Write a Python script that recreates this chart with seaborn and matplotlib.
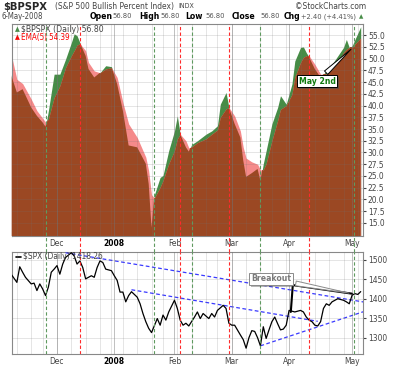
import numpy as np
import pandas as pd
import seaborn as sns
import matplotlib.pyplot as plt
import matplotlib.patheffects as pe

sns.set_style("white")
plt.rcParams["font.family"] = ["DejaVu Sans"]
plt.rcParams["font.stretch"] = "condensed"

# trading days are numbered from 2007-11-01 (day 0)
holidays = ["2007-11-22", "2007-12-25", "2008-01-01", "2008-01-21", "2008-02-18", "2008-03-21"]
days = pd.bdate_range("2007-11-01", "2008-05-06")
days = days[~days.isin(pd.to_datetime(holidays))]

# $BPSPX and its 5-day EMA
bp_day = [5, 7, 9, 12, 14, 16, 17, 18, 20, 22, 24, 26, 27, 28, 29, 31, 32, 34, 36, 38,
          40, 42, 44, 46, 49, 52, 53, 54, 55, 57, 58, 60, 62, 63, 64, 66, 67, 68, 70, 73,
          75, 77, 78, 80, 81, 83, 85, 86, 87, 89, 91, 92, 93, 94, 96, 98, 99, 101, 103, 104,
          106, 107, 108, 109, 111, 113, 115, 117, 119, 121, 122, 123, 124, 125, 127]
bp_val = [46.5, 42.8, 43.5, 39.6, 37.8, 36.4, 35.5, 38.9, 46.7, 46.7, 49.9, 53.4, 55.3, 54.9, 53.4, 50.6, 47.8, 46.0, 47.0, 48.5,
          48.3, 44.6, 38.9, 31.5, 31.1, 27.6, 23.3, 14.0, 21.0, 24.7, 25.1, 30.4, 34.6, 37.8, 33.9, 31.1, 30.2, 31.7, 32.5, 33.9,
          34.6, 35.7, 40.3, 42.8, 39.6, 36.1, 33.2, 28.3, 24.8, 25.6, 26.5, 24.0, 27.6, 30.4, 36.1, 39.6, 42.1, 40.3, 44.6, 49.5,
          52.4, 52.5, 51.3, 50.3, 47.8, 46.0, 47.4, 48.8, 50.6, 52.4, 54.1, 52.4, 52.7, 54.1, 56.8]
ema_val = [51.0, 45.6, 44.7, 41.4, 38.9, 37.3, 36.5, 37.1, 41.7, 44.2, 48.1, 50.6, 51.7, 52.9, 53.2, 51.7, 49.2, 47.4, 47.0, 47.8,
           48.1, 46.0, 40.7, 36.1, 33.2, 29.0, 26.1, 21.0, 20.3, 22.6, 24.0, 27.6, 30.4, 32.9, 33.9, 32.5, 31.0, 31.2, 32.1, 32.9,
           33.9, 34.8, 37.5, 39.3, 39.6, 37.8, 34.6, 31.1, 28.8, 28.0, 27.5, 26.3, 26.3, 27.6, 32.5, 36.8, 39.2, 40.0, 42.4, 46.0,
           49.2, 50.3, 50.6, 50.6, 48.8, 46.7, 46.7, 47.8, 49.2, 51.3, 52.0, 52.4, 52.4, 53.1, 54.39]

# $SPX close
spx_day = [5, 7, 8, 9, 10, 12, 13, 14, 15, 16, 17, 18, 19, 20, 21, 22, 23, 24, 26, 27,
           28, 29, 30, 31, 33, 34, 35, 36, 37, 38, 40, 41, 42, 43, 44, 45, 46, 47, 49, 50,
           51, 52, 53, 54, 56, 57, 58, 59, 60, 62, 63, 64, 65, 66, 67, 69, 70, 71, 72, 74,
           75, 76, 77, 79, 80, 81, 82, 83, 85, 86, 87, 88, 89, 90, 91, 92, 93, 94, 95, 96,
           97, 98, 99, 100, 101, 102, 104, 106, 107, 108, 109, 110, 111, 112, 113, 114, 115, 116, 117, 118,
           119, 121, 122, 123, 124, 125, 126, 127]
spx_val = [1463, 1442, 1482, 1468, 1455, 1438, 1440, 1421, 1438, 1425, 1408, 1430, 1468, 1476, 1485, 1463, 1489, 1506, 1518, 1510,
           1489, 1497, 1480, 1451, 1459, 1455, 1480, 1497, 1493, 1476, 1472, 1459, 1447, 1417, 1417, 1392, 1408, 1418, 1404, 1387,
           1362, 1341, 1324, 1313, 1349, 1332, 1358, 1345, 1366, 1396, 1375, 1345, 1332, 1337, 1330, 1353, 1366, 1349, 1362, 1349,
           1362, 1353, 1370, 1383, 1375, 1337, 1332, 1332, 1307, 1295, 1273, 1300, 1318, 1316, 1300, 1279, 1328, 1298, 1320, 1341,
           1353, 1336, 1320, 1322, 1332, 1370, 1366, 1370, 1366, 1353, 1345, 1341, 1332, 1330, 1341, 1375, 1387, 1383, 1392, 1396,
           1400, 1396, 1392, 1387, 1409, 1413, 1411, 1418.26]

# trend lines drawn on the $SPX panel (day, value)
trend_upper = [(24, 1518), (128.5, 1391)]
trend_middle = [(47, 1423), (112, 1342)]
trend_lower = [(92, 1279), (128.5, 1368)]
breakout_line = [(102.6, 1366), (103.3, 1435), (123.9, 1413)]

# crossover signal days
buy_days = [17, 55, 68, 92, 124.5]
sell_days = [29, 64, 81, 109]

brown, green, pink = "#9b4823", "#468c46", "#f58a8a"
grid_c = (0.45, 0.45, 0.45, 0.22)
txt_c = "#444444"

month_idx = [i for i in range(1, len(days)) if days[i].month != days[i - 1].month]
month_lab = ["Dec", "2008", "Feb", "Mar", "Apr", "May"]
week_idx = [i for i in range(1, len(days)) if days[i].weekday() < days[i - 1].weekday()]

fig = plt.figure(figsize=(4, 3.67), dpi=100, facecolor="w")
ax1 = fig.add_axes([0.03, 0.357, 0.8775, 0.5777])
ax2 = fig.add_axes([0.03, 0.0354, 0.8775, 0.278])

ybot = 12.2
x = np.array(bp_day)
bp = np.array(bp_val)
ema = np.array(ema_val)
g = ax1.fill_between(x, ybot, bp, color=green, lw=0, zorder=1)
ax1.fill_between(x, ybot, ema, color=pink, lw=0, zorder=2)
b = ax1.fill_between(x, ybot, ema, color=brown, lw=0, zorder=3)
b.set_clip_path(g.get_paths()[0], ax1.transData)
ax1.set_ylim(ybot, 57.4)
ax1.set_yticks(np.arange(15, 55.1, 2.5))
ax1.set_yticklabels([f"{v:.1f}" for v in np.arange(15, 55.1, 2.5)])

sns.lineplot(x=spx_day, y=spx_val, color="black", lw=0.9, ax=ax2, legend=False, zorder=5)
for ln in (trend_upper, trend_middle, trend_lower):
    ax2.plot([p[0] for p in ln], [p[1] for p in ln], color="#3a3aff", lw=0.9, ls=(0, (3, 2)), zorder=4)
ax2.plot([p[0] for p in breakout_line], [p[1] for p in breakout_line], color="black", lw=1.5, zorder=6)
ax2.set_ylim(1258, 1520)
ax2.set_yticks(range(1300, 1501, 50))

for ax in (ax1, ax2):
    ax.set_xlim(5.3, 127.8)
    ax.yaxis.tick_right()
    ax.tick_params(axis="y", labelsize=6, colors=txt_c, length=2, pad=1.5)
    ax.tick_params(axis="x", labelsize=6, colors=txt_c, length=0, pad=2)
    ax.set_xticks(month_idx)
    ax.set_xticklabels(month_lab)
    ax.get_xticklabels()[1].set_fontweight("bold")
    ax.get_xticklabels()[1].set_color("black")
    ax.set_xlabel("")
    ax.set_ylabel("")
    for v in ax.get_yticks():
        ax.axhline(v, color=grid_c, lw=0.6, zorder=4)
    for d in week_idx:
        ax.axvline(d, color=grid_c, lw=0.6, zorder=4)
    for d in month_idx:
        ax.axvline(d, color=(0.45, 0.45, 0.45, 0.45), lw=0.7, zorder=4)
    for s in ax.spines.values():
        s.set_color("#888")
        s.set_linewidth(0.8)

for d in buy_days:
    ax1.axvline(d, ymin=-0.076, ymax=1, color="#5f9a5f", lw=0.8, ls=(0, (3, 2)), zorder=7, clip_on=False)
    ax2.axvline(d, color="#5f9a5f", lw=0.8, ls=(0, (3, 2)), zorder=7)
for d in sell_days:
    ax1.axvline(d, ymin=-0.076, ymax=1, color="#ff2a2a", lw=0.8, ls=(0, (3, 2)), zorder=7, clip_on=False)
    ax2.axvline(d, color="#ff2a2a", lw=0.8, ls=(0, (3, 2)), zorder=7)

# annotations
a1 = ax1.annotate("May 2nd", xy=(124.3, 52.4), xytext=(111.8, 45.2), ha="center", va="center",
                  fontsize=6.2, fontweight="bold", color="#0f7a0f", zorder=10,
                  bbox=dict(boxstyle="square,pad=0.2", fc="white", ec="black", lw=0.7),
                  arrowprops=dict(arrowstyle="wedge,tail_width=0.55,shrink_factor=0.5",
                                  fc="white", ec="black", lw=0.7))
a1.get_bbox_patch().set_path_effects([pe.withSimplePatchShadow(offset=(1.2, -1.2), alpha=0.6)])
a2 = ax2.annotate("Breakout", xy=(123.9, 1413), xytext=(95.7, 1451), ha="center", va="center",
                  fontsize=6.2, fontweight="bold", color="#7a7a7a", zorder=10,
                  bbox=dict(boxstyle="square,pad=0.2", fc="white", ec="#8a8a8a", lw=0.7),
                  arrowprops=dict(arrowstyle="wedge,tail_width=0.55,shrink_factor=0.5",
                                  fc="white", ec="#8a8a8a", lw=0.7))
a2.get_bbox_patch().set_path_effects([pe.withSimplePatchShadow(offset=(1.2, -1.2), alpha=0.4)])

# legends inside the panels
ax1.text(0.008, 0.988, "\u25b2", transform=ax1.transAxes, fontsize=5, color=green, va="top")
ax1.text(0.026, 0.994, "\\$BPSPX (Daily) 56.80", transform=ax1.transAxes, fontsize=6.2, color=txt_c, va="top")
ax1.text(0.008, 0.952, "\u25b2", transform=ax1.transAxes, fontsize=5, color="red", va="top")
ax1.text(0.026, 0.956, "EMA(5) 54.39", transform=ax1.transAxes, fontsize=5.8, color="red", va="top")
ax2.plot([0.01, 0.026], [0.955, 0.955], transform=ax2.transAxes, color="black", lw=1.2)
ax2.text(0.03, 0.995, "\\$SPX (Daily) 1418.26", transform=ax2.transAxes, fontsize=6, color=txt_c, va="top", zorder=10)

# header
y1 = 1 - 6.5 / 367
fig.text(3 / 400, y1, "\\$BPSPX", fontsize=8, fontweight="bold", va="center")
fig.text(55 / 400, y1, "(S&P 500 Bullish Percent Index)", fontsize=6, color=txt_c, va="center")
fig.text(178 / 400, y1, "INDX", fontsize=5, color=txt_c, va="center")
fig.text(366 / 400, y1, "\u00a9StockCharts.com", fontsize=6, color=txt_c, va="center", ha="right")
y2 = 1 - 16.5 / 367
fig.text(2 / 400, y2, "6-May-2008", fontsize=5.6, color=txt_c, va="center")
hdr = [(90, "Open", True), (112, "56.80", False), (139, "High", True), (160, "56.80", False),
       (185, "Low", True), (205, "56.80", False), (232, "Close", True), (260, "56.80", False),
       (284, "Chg", True), (301, "+2.40 (+4.41%)", False)]
for xp, t, bold in hdr:
    fig.text(xp / 400, y2, t, fontsize=6.2 if bold else 5.4, fontweight="bold" if bold else "normal",
             color="black" if bold else "#555", va="center")
fig.text(359 / 400, y2, "\u25b2", fontsize=4.5, color=green, va="center")

fig.savefig("out.png", dpi=100, facecolor="w")
